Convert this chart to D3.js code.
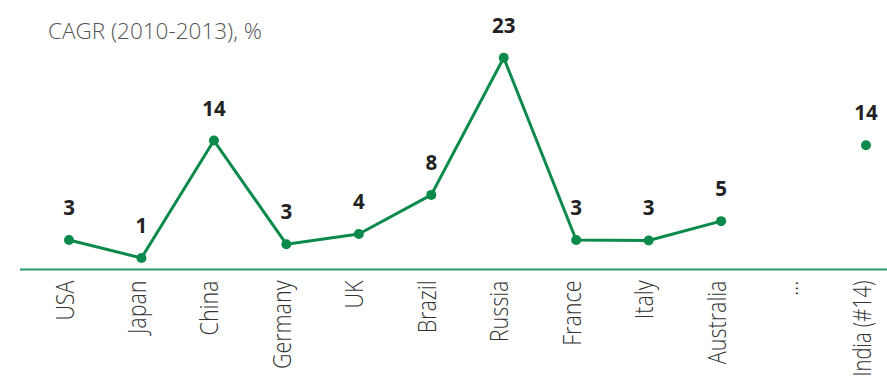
<!DOCTYPE html>
<html>
<head>
<meta charset="utf-8">
<script src="https://cdn.jsdelivr.net/npm/d3@7"></script>
<style>
  body { margin: 0; background: #fff; }
  text { font-family: "Open Sans", "DejaVu Sans", sans-serif; }
</style>
</head>
<body>
<div id="chart"></div>
<script>
// countries along the axis, "..." is a gap marker with no value
var countries = ["USA", "Japan", "China", "Germany", "UK", "Brazil", "Russia", "France", "Italy", "Australia", "…", "India (#14)"];
// CAGR values as plotted
var cagr = [3.2, 1.25, 14.0, 2.75, 3.85, 8.1, 23.0, 3.2, 3.15, 5.25, null, 13.5];
// rounded labels shown above the points
var cagrLabels = ["3", "1", "14", "3", "4", "8", "23", "3", "3", "5", "", "14"];

var width = 887, height = 381;
var green = "#0b8a4b";

var svg = d3.select("#chart").append("svg")
    .attr("width", width)
    .attr("height", height);

var x = d3.scalePoint()
    .domain(countries)
    .range([69, 866]);

var y = d3.scaleLinear()
    .domain([0, 23])
    .range([269.5, 57.7]);

// title
svg.append("text")
    .attr("x", 48)
    .attr("y", 39)
    .attr("fill", "#555")
    .attr("font-size", 22.5)
    .attr("font-weight", 300)
    .text("CAGR (2010-2013), %");

// country labels, rotated, hanging below the baseline
var xAxis = g => g
    .attr("transform", `translate(0,${y(0)})`)
    .call(d3.axisBottom(x).tickSize(0).tickPadding(0))
    .call(g => g.select(".domain").remove())
    .call(g => g.selectAll(".tick text")
        .attr("fill", "#333")
        .attr("font-size", 21.5)
        .attr("font-weight", 300)
        .attr("font-family", "\"Open Sans\", sans-serif")
        .attr("text-anchor", "end")
        .attr("y", 0)
        .attr("dy", null)
        .attr("transform", "translate(4,11) rotate(-90) scale(1,1.15)"))
    // the last label runs down to the bottom edge, keep it inside
    .call(g => g.selectAll(".tick text")
        .filter(d => d == "India (#14)")
        .attr("textLength", 96)
        .attr("lengthAdjust", "spacingAndGlyphs"));

svg.append("line")
    .attr("x1", 20)
    .attr("x2", width)
    .attr("y1", y(0))
    .attr("y2", y(0))
    .attr("stroke", "#2a9a66")
    .attr("stroke-width", 2);

svg.append("g").call(xAxis);

var pts = countries.map((c, i) => ({c: c, v: cagr[i], lab: cagrLabels[i]}));

var line = d3.line()
    .x(d => x(d.c))
    .y(d => y(d.v));

// India is shown on its own, not joined to the others
svg.append("path")
    .datum(pts.filter(d => d.c != "India (#14)" && d.v != null))
    .attr("fill", "none")
    .attr("stroke", green)
    .attr("stroke-width", 3)
    .attr("stroke-linejoin", "round")
    .attr("d", line);

var valid = pts.filter(d => d.v != null);

svg.append("g")
    .selectAll("circle")
    .data(valid)
    .join("circle")
    .attr("cx", d => x(d.c))
    .attr("cy", d => y(d.v))
    .attr("r", 5)
    .attr("fill", green);

svg.append("g")
    .selectAll("text")
    .data(valid)
    .join("text")
    .attr("x", d => x(d.c))
    .attr("y", d => y(d.v) - 25)
    .attr("text-anchor", "middle")
    .attr("fill", "#222")
    .attr("font-size", 20.5)
    .attr("font-weight", 700)
    .text(d => d.lab);
</script>
</body>
</html>
